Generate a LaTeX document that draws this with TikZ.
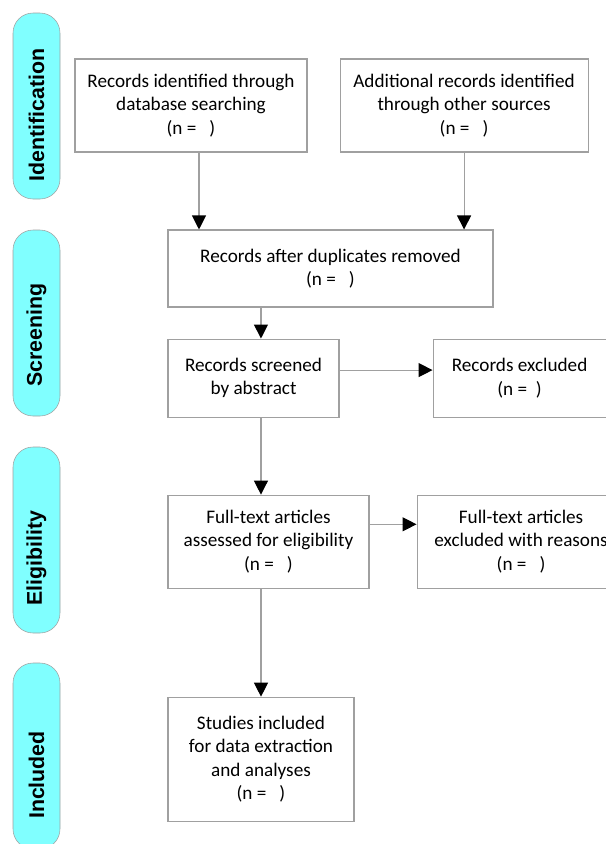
\documentclass[tikz,border=0pt]{standalone}
\usepackage{fontspec}
\setmainfont{Carlito}
\newfontfamily\phasefont{Liberation Sans}
\usepackage{tikz}
\usetikzlibrary{positioning}
\usetikzlibrary{arrows.meta}
\definecolor{phasecyan}{RGB}{128,255,255}
\definecolor{boxgray}{RGB}{160,160,160}
\tikzset{
	record/.style={
		draw=boxgray, line width=0.8pt, fill=white, align=center, inner sep=2pt,
		font=\fontsize{14.4}{17.6}\selectfont
	},
	phase/.style={
		draw=boxgray, fill=phasecyan, rounded corners=15pt,
		minimum width=35.25pt, minimum height=139.5pt, inner sep=0pt
	},
	phase label/.style={
		rotate=90, inner sep=0pt,
		font=\phasefont\bfseries\fontsize{16}{19}\selectfont
	},
	flow/.style={
		draw=boxgray, line width=0.8pt,
		-{Triangle[length=10.5pt, width=10.5pt, color=black]}
	}
}

\begin{document}
\begin{tikzpicture}[x=0.75pt, y=-0.75pt]
	\clip (0,0) rectangle (606,844);

	% phases on the left
	\foreach \phase/\y/\ty in {Identification/106/115, Screening/323/335, Eligibility/540/558, Included/756/775}{
		\node[phase] (phase-\phase) at (36.5,\y) {};
		\node[phase label] (label-\phase) at (36.5,\ty) {\phase};
	}

	\node[record, minimum width=174pt, minimum height=69.75pt] (db-records) at (191,105.5)
		{Records identified through\\database searching\\(n = \ \ )};
	\node[record, minimum width=186pt, minimum height=69.75pt, right=24pt of db-records] (other-records)
		{Additional records identified\\through other sources\\(n = \ \ )};
	\node[record, minimum width=243.75pt, minimum height=57.75pt] (no-duplicates) at (330.5,268.5)
		{Records after duplicates removed\\(n = \ \ )};
	\node[record, minimum width=128.25pt, minimum height=58.5pt, below right=23.25pt and 0pt of no-duplicates.south west] (screened)
		{Records screened\\by abstract};
	\node[record, minimum width=129.75pt, minimum height=58.5pt, right=69.75pt of screened] (excluded)
		{Records excluded\\(n = \ )};
	\node[record, minimum width=150.75pt, minimum height=69.75pt, below right=57.75pt and 0pt of screened.south west] (full-text)
		{Full-text articles\\assessed for eligibility\\(n = \ \ )};
	\node[record, minimum width=156pt, minimum height=69.75pt, right=35.25pt of full-text] (full-text-excluded)
		{Full-text articles\\excluded with reasons\\(n = \ \ )};
	\node[record, minimum width=139.5pt, minimum height=93pt, below right=81pt and 0pt of full-text.south west] (included)
		{Studies included\\for data extraction\\and analyses\\(n = \ \ )};

	\draw[flow] ([xshift=6pt]db-records.south) -- ([xshift=6pt]db-records.south |- no-duplicates.north);
	\draw[flow] (other-records.south) -- (other-records.south |- no-duplicates.north);
	\draw[flow] ([xshift=5.6pt]screened.north |- no-duplicates.south) -- ([xshift=5.6pt]screened.north);
	\draw[flow] ([yshift=6pt]screened.east) -- ([yshift=6pt]screened.east -| excluded.west);
	\draw[flow] ([xshift=5.6pt]screened.south) -- ([xshift=5.6pt]screened.south |- full-text.north);
	\draw[flow] ([yshift=13pt]full-text.east) -- ([yshift=13pt]full-text.east -| full-text-excluded.west);
	\draw[flow] (included.north |- full-text.south) -- (included.north);
\end{tikzpicture}
\end{document}
